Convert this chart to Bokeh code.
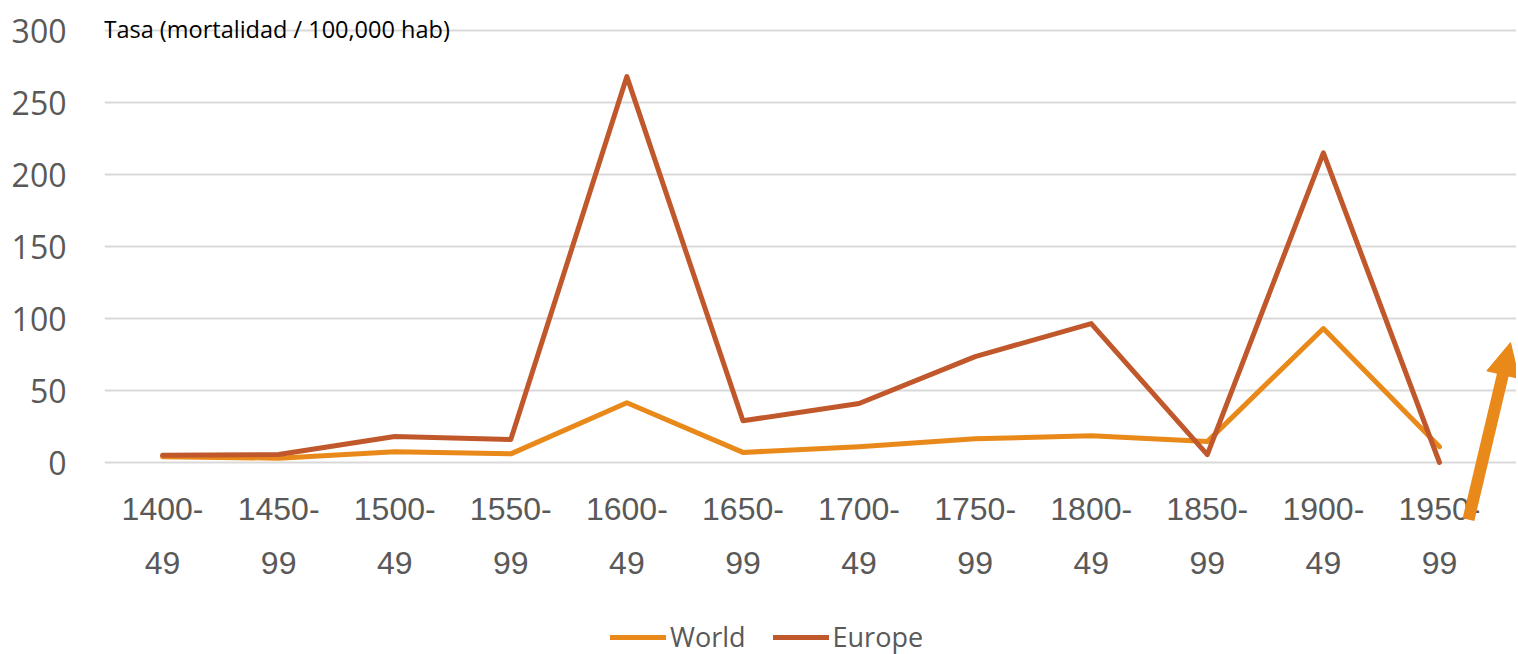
from bokeh.plotting import figure
from bokeh.models import (Range1d, FixedTicker, LinearAxis, Legend, LegendItem,
                          Label, Arrow, NormalHead)
from bokeh.core.properties import value
from bokeh.embed import file_html
from bokeh.resources import INLINE

# ---- data ----
periods_top = ["1400-", "1450-", "1500-", "1550-", "1600-", "1650-",
               "1700-", "1750-", "1800-", "1850-", "1900-", "1950-"]
periods_bottom = ["49", "99", "49", "99", "49", "99",
                  "49", "99", "49", "99", "49", "99"]
world = [4, 3, 7.5, 6, 41.5, 7, 11, 16.5, 18.5, 14.5, 93, 11]
europe = [5, 5.5, 18, 16, 268, 29, 41, 73.5, 96.5, 5.5, 215, 0]
y_ticks = [0, 50, 100, 150, 200, 250, 300]
title_text = "Tasa (mortalidad / 100,000 hab)"

WORLD_C = "#E8891A"
EUROPE_C = "#C0582B"
TICK_C = "#595959"

xs = list(range(len(periods_top)))

# frame spans the canvas (except the y-axis panel) so the arrow, legend and
# category labels are not clipped
PX_PER_UNIT = 1.44
CAT_W = 1393 / 12
FRAME_W, FRAME_H = 1412, 654
y_top = 300 + 30 / PX_PER_UNIT
y_bot = y_top - FRAME_H / PX_PER_UNIT
x_end = -0.5 + FRAME_W / CAT_W

p = figure(frame_width=FRAME_W, frame_height=FRAME_H,
           x_range=Range1d(-0.5, x_end), y_range=Range1d(y_bot, y_top),
           output_backend="svg", toolbar_location=None,
           x_axis_location=None, y_axis_location=None,
           min_border_left=104, min_border_top=0, min_border_right=0,
           min_border_bottom=0)
p.outline_line_color = None
p.background_fill_color = "white"
p.border_fill_color = "white"

# y axis
yax = LinearAxis(ticker=FixedTicker(ticks=y_ticks))
yax.axis_line_color = None
yax.major_tick_line_color = None
yax.minor_tick_line_color = None
yax.major_label_standoff = 32
yax.major_label_text_font = "Open Sans"
yax.major_label_text_font_size = "32px"
yax.major_label_text_color = TICK_C
p.add_layout(yax, "left")

p.ygrid.ticker = FixedTicker(ticks=y_ticks)
p.ygrid.bounds = (-0.5, 11.5)
p.ygrid.grid_line_color = "#D9D9D9"
p.ygrid.grid_line_width = 2
p.xgrid.visible = False

# two-line category labels
p.text(x=xs, y=0, text=periods_top, text_align="center",
       text_baseline="alphabetic", y_offset=46,
       text_font=value("Liberation Sans"), text_font_size="32px",
       text_color=TICK_C)
p.text(x=xs, y=0, text=periods_bottom, text_align="center",
       text_baseline="alphabetic", y_offset=100,
       text_font=value("Liberation Sans"), text_font_size="32px",
       text_color=TICK_C)

r_world = p.line(xs, world, line_color=WORLD_C, line_width=5,
                 line_join="round", line_cap="round")
r_europe = p.line(xs, europe, line_color=EUROPE_C, line_width=5,
                  line_join="round", line_cap="round")

legend = Legend(items=[LegendItem(label="World", renderers=[r_world]),
                       LegendItem(label="Europe", renderers=[r_europe])],
                orientation="horizontal", location=(506, -1),
                label_text_font="Open Sans", label_text_font_size="27px",
                label_text_color=TICK_C, glyph_width=56, glyph_height=28,
                label_height=28, label_standoff=4, spacing=27, padding=0,
                margin=0, border_line_color=None, background_fill_alpha=0)
p.add_layout(legend, "center")

p.add_layout(Label(x=-0.5, y=300, x_offset=-1, y_offset=2, text=title_text,
                   text_font="Open Sans", text_font_size="23.5px",
                   text_color="#000000", text_baseline="alphabetic"))

p.add_layout(Arrow(x_start=11.25, y_start=-39.6, x_end=11.612, y_end=83.3,
                   line_color=WORLD_C, line_width=12,
                   end=NormalHead(size=33, fill_color=WORLD_C,
                                  line_color=WORLD_C, line_width=1)))

open("out.html", "w").write(file_html(p, INLINE))
